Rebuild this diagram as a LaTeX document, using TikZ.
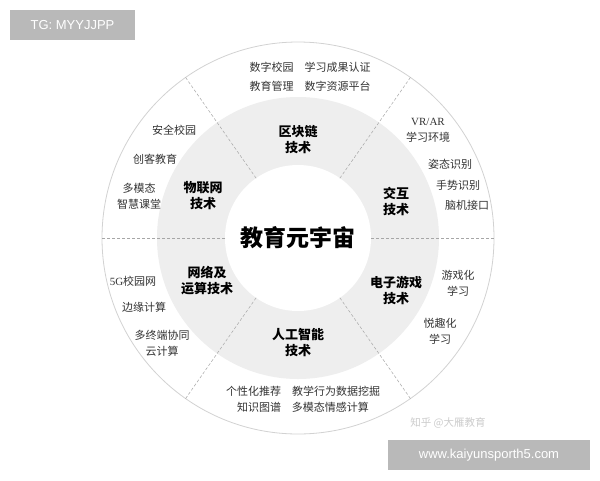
\documentclass[tikz,border=0pt]{standalone}
\usetikzlibrary{calc}
\usepackage{fontspec}
\setmainfont{Noto Sans CJK SC}
\setsansfont{Liberation Sans}
\begin{document}
\begin{tikzpicture}[x=1pt,y=-1pt,
  sm/.style={font=\fontsize{11}{16}\selectfont,align=center,text=black!80},
  bd/.style={font=\fontsize{13}{16}\selectfont\bfseries,align=center},
  dv/.style={densely dashed,gray!70,line width=0.5pt}]
\useasboundingbox[fill=white] (0,0) rectangle (600,480);
\coordinate (c) at (298,238);
\fill[white,draw=gray!35,line width=0.8pt] (c) circle (196);
\fill[gray!13] (c) circle (141);
\fill[white] (c) circle (73);
\foreach \a in {0,55,125,180,235,305}{
  \draw[dv] ($(c)+(\a:73)$) -- ($(c)+(\a:196)$);}
\node[font=\fontsize{23}{26}\selectfont\bfseries] (ctr) at (c) {教育元宇宙};
\node[bd] (b1) at (298,140) {区块链\\技术};
\node[bd] (b2) at (396,201) {交互\\技术};
\node[bd] (b3) at (396,290) {电子游戏\\技术};
\node[bd] (b4) at (298,343) {人工智能\\技术};
\node[bd] (b5) at (207,281) {网络及\\运算技术};
\node[bd] (b6) at (203,196) {物联网\\技术};
\node[sm,font=\fontsize{11}{19}\selectfont] (t1) at (310,77) {数字校园\quad 学习成果认证\\教育管理\quad 数字资源平台};
\node[sm] (l1) at (174,130) {安全校园};
\node[sm] (l2) at (155,159) {创客教育};
\node[sm] (l3) at (139,196) {多模态\\智慧课堂};
\node[sm] (r1) at (428,130) {{\fontspec{Liberation Serif}VR/AR}\\学习环境};
\node[sm] (r2) at (450,164) {姿态识别};
\node[sm] (r3) at (458,185) {手势识别};
\node[sm] (r4) at (467,205) {脑机接口};
\node[sm] (r5) at (458,283) {游戏化\\学习};
\node[sm] (r6) at (440,331) {悦趣化\\学习};
\node[sm] (l4) at (133,281) {{\fontspec{Liberation Serif}5G}校园网};
\node[sm] (l5) at (144,307) {边缘计算};
\node[sm] (l6) at (162,343) {多终端协同\\云计算};
\node[sm] (t2) at (303,399) {个性化推荐\quad 教学行为数据挖掘\\知识图谱\quad 多模态情感计算};
\node[font=\fontsize{10.5}{12}\selectfont,text=gray!40] (wm) at (448,423) {知乎 @大雁教育};
\node[fill=gray!55,text=white,font=\sffamily\fontsize{13}{14}\selectfont,minimum width=125,minimum height=30,inner sep=0] (tg) at (72.5,25) {TG: MYYJJPP};
\node[fill=gray!55,text=white,font=\sffamily\fontsize{13}{14}\selectfont,minimum width=202,minimum height=30,inner sep=0] (url) at (489,455) {www.kaiyunsporth5.com};
\end{tikzpicture}
\end{document}
